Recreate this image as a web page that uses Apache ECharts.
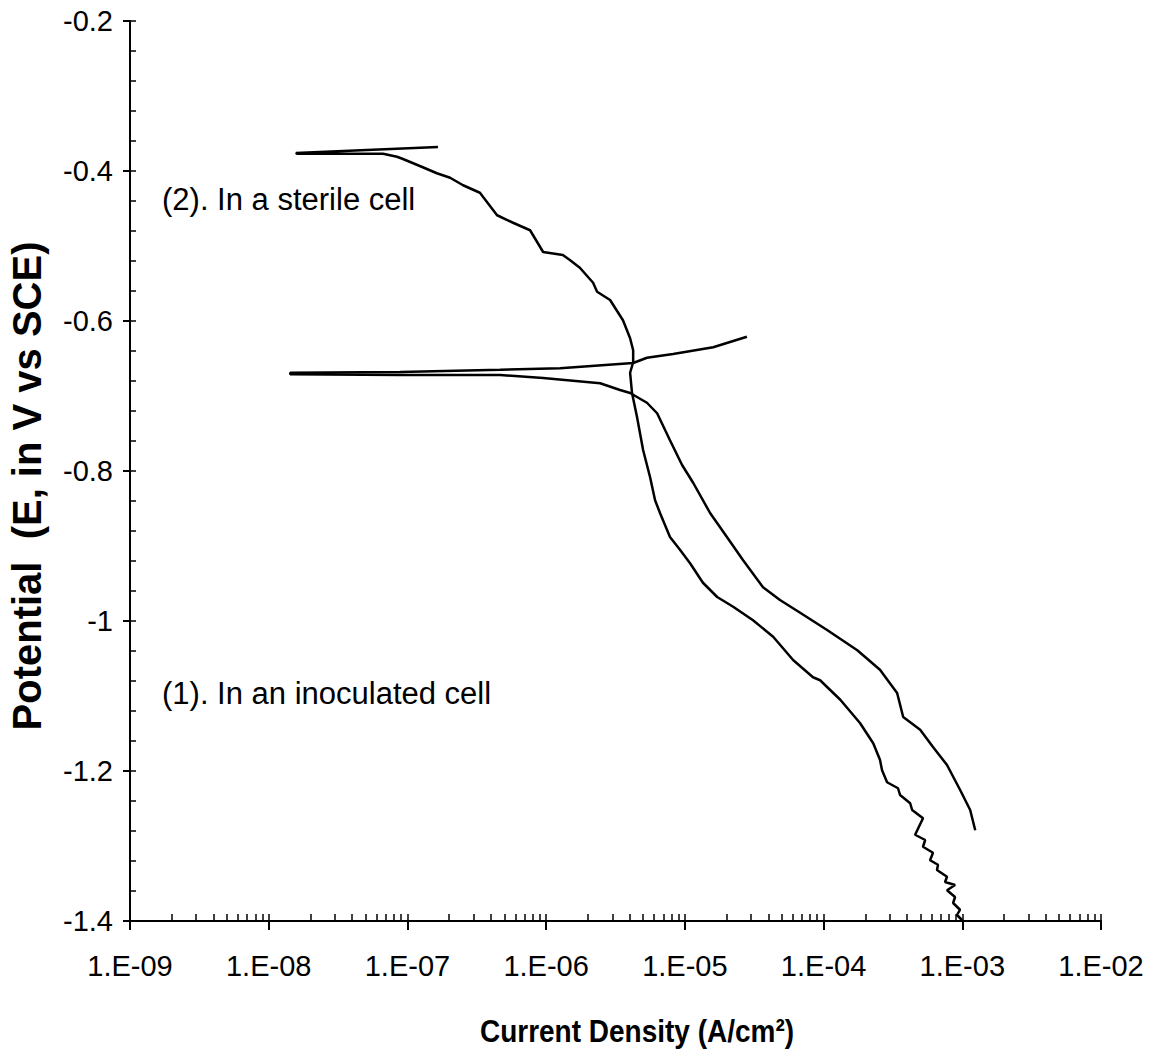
<!DOCTYPE html>
<html>
<head>
<meta charset="utf-8">
<script src="https://cdn.jsdelivr.net/npm/echarts@6/dist/echarts.min.js"></script>
<style>
html, body { margin: 0; padding: 0; background: #fff; }
#chart { width: 1155px; height: 1059px; }
</style>
</head>
<body>
<div id="chart"></div>
<script>
// (2) sterile cell: current density (A/cm2) and potential (V vs SCE)
var sterileCurrent = [1.66e-7, 1.57e-8, 1.60e-8, 6.67e-8, 8.41e-8, 9.29e-8, 1.29e-7, 1.63e-7, 2.03e-7, 2.52e-7,
    3.33e-7, 4.43e-7, 5.77e-7, 7.66e-7, 9.51e-7, 1.32e-6, 1.49e-6, 1.75e-6, 2.18e-6, 2.33e-6,
    2.89e-6, 3.58e-6, 4.03e-6, 4.24e-6, 4.24e-6, 4.03e-6, 4.16e-6, 4.52e-6, 5.00e-6, 5.61e-6,
    6.10e-6, 6.62e-6, 7.81e-6, 9.22e-6, 1.09e-5, 1.35e-5, 1.71e-5, 2.23e-5, 3.10e-5, 4.33e-5,
    6.03e-5, 8.39e-5, 9.44e-5, 1.32e-4, 1.83e-4, 2.28e-4, 2.55e-4, 2.64e-4, 2.87e-4, 3.44e-4,
    3.56e-4, 4.21e-4, 4.35e-4, 5.21e-4, 4.57e-4, 5.40e-4, 5.21e-4, 6.15e-4, 5.86e-4, 6.68e-4,
    6.57e-4, 7.76e-4, 7.51e-4, 8.87e-4, 7.76e-4, 8.87e-4, 8.59e-4, 9.63e-4, 9.16e-4, 9.98e-4];
var sterilePotential = [-0.368, -0.376, -0.377, -0.377, -0.381, -0.384, -0.395, -0.403, -0.409, -0.419,
    -0.429, -0.459, -0.469, -0.479, -0.508, -0.512, -0.519, -0.529, -0.549, -0.561,
    -0.572, -0.599, -0.623, -0.639, -0.655, -0.669, -0.696, -0.728, -0.772, -0.808,
    -0.839, -0.856, -0.888, -0.905, -0.923, -0.949, -0.968, -0.981, -0.999, -1.021,
    -1.052, -1.075, -1.079, -1.105, -1.136, -1.163, -1.185, -1.199, -1.215, -1.223,
    -1.232, -1.243, -1.252, -1.263, -1.285, -1.292, -1.301, -1.309, -1.319, -1.325,
    -1.332, -1.341, -1.348, -1.352, -1.359, -1.368, -1.376, -1.385, -1.392, -1.399];

// (1) inoculated cell
var inocCurrent = [2.80e-5, 1.60e-5, 8.22e-6, 5.33e-6, 4.24e-6, 1.26e-6, 4.66e-7, 8.85e-8, 1.43e-8, 1.43e-8,
    8.85e-8, 4.66e-7, 9.51e-7, 2.45e-6, 3.41e-6, 4.03e-6, 5.33e-6, 6.31e-6, 7.81e-6, 9.55e-6,
    1.15e-5, 1.52e-5, 2.01e-5, 2.63e-5, 3.66e-5, 4.85e-5, 6.78e-5, 1.06e-4, 1.75e-4, 2.55e-4,
    3.39e-4, 3.75e-4, 4.97e-4, 6.15e-4, 7.76e-4, 9.63e-4, 1.14e-3, 1.24e-3];
var inocPotential = [-0.621, -0.635, -0.644, -0.649, -0.656, -0.663, -0.665, -0.668, -0.669, -0.671,
    -0.672, -0.672, -0.676, -0.683, -0.692, -0.696, -0.709, -0.723, -0.759, -0.792,
    -0.816, -0.856, -0.888, -0.919, -0.955, -0.972, -0.989, -1.012, -1.039, -1.065,
    -1.096, -1.128, -1.145, -1.168, -1.192, -1.225, -1.252, -1.279];

var xTickLabels = ['1.E-09', '1.E-08', '1.E-07', '1.E-06', '1.E-05', '1.E-04', '1.E-03', '1.E-02'];
var decades = [-9, -8, -7, -6, -5, -4, -3, -2];

// tick positions (log10) for the 1..9 marks of each decade
var decadeTicks = [];
decades.forEach(function (d) {
    for (var k = 1; k <= 9; k++) {
        if (d === -2 && k > 1) break;
        decadeTicks.push(d + Math.log10(k));
    }
});

function pairs(xs, ys) {
    return xs.map(function (x, i) { return [x, ys[i]]; });
}

var font = '"Liberation Sans", Arial, sans-serif';
var black = '#000';

var myChart = echarts.init(document.getElementById('chart'), null, { renderer: 'svg' });

var option = {
    animation: false,
    backgroundColor: '#fff',
    grid: { left: 130, right: 54, top: 21, bottom: 138 },
    xAxis: [
        {
            type: 'log',
            logBase: 10,
            min: 1e-9,
            max: 1e-2,
            position: 'bottom',
            axisLine: { lineStyle: { color: black, width: 2 } },
            axisTick: { length: 9, lineStyle: { color: black, width: 2 } },
            splitLine: { show: false },
            axisLabel: {
                color: black,
                fontFamily: font,
                fontSize: 29,
                margin: 30,
                formatter: function (v) {
                    var e = Math.round(Math.log10(v));
                    return xTickLabels[decades.indexOf(e)];
                }
            }
        },
        {
            // decoration only: the small upward ticks of each decade
            type: 'value',
            min: -9,
            max: -2,
            position: 'bottom',
            axisLine: { show: false },
            axisLabel: { show: false },
            splitLine: { show: false },
            axisTick: {
                inside: true,
                length: 7,
                customValues: decadeTicks,
                lineStyle: { color: black, width: 1.5 }
            }
        }
    ],
    yAxis: [
        {
            type: 'value',
            min: -1.4,
            max: -0.2,
            interval: 0.2,
            axisLine: { show: true, lineStyle: { color: black, width: 2 } },
            axisTick: { show: true, length: 7, lineStyle: { color: black, width: 2 } },
            splitLine: { show: false },
            axisLabel: { color: black, fontFamily: font, fontSize: 29, margin: 17 }
        },
        {
            type: 'value',
            min: -1.4,
            max: -0.2,
            interval: 0.2,
            position: 'left',
            axisLine: { show: false },
            axisLabel: { show: false },
            splitLine: { show: false },
            axisTick: { show: true, inside: true, length: 6, lineStyle: { color: black, width: 1.5 } },
            minorTick: { show: true, splitNumber: 5, length: 6, lineStyle: { color: black, width: 1.5 } }
        }
    ],
    series: [
        {
            name: '(2). In a sterile cell',
            type: 'line',
            xAxisIndex: 0,
            yAxisIndex: 0,
            data: pairs(sterileCurrent, sterilePotential),
            showSymbol: false,
            lineStyle: { color: black, width: 2.5 }
        },
        {
            name: '(1). In an inoculated cell',
            type: 'line',
            xAxisIndex: 0,
            yAxisIndex: 0,
            data: pairs(inocCurrent, inocPotential),
            showSymbol: false,
            lineStyle: { color: black, width: 2.5 }
        }
    ],
    graphic: [
        {
            type: 'text', x: 162, y: 199,
            style: { text: '(2). In a sterile cell', font: '31px ' + font, fill: black,
                     align: 'left', verticalAlign: 'middle', textAlign: 'left', textVerticalAlign: 'middle' }
        },
        {
            type: 'text', x: 162, y: 693,
            style: { text: '(1). In an inoculated cell', font: '31px ' + font, fill: black,
                     align: 'left', verticalAlign: 'middle', textAlign: 'left', textVerticalAlign: 'middle' }
        },
        {
            type: 'text', x: 637, y: 1031, scaleY: 1.15,
            style: { text: 'Current Density (A/cm²)', font: 'bold 28px ' + font, fill: black,
                     align: 'center', verticalAlign: 'middle', textAlign: 'center', textVerticalAlign: 'middle' }
        },
        {
            type: 'text', x: 27, y: 486, rotation: Math.PI / 2,
            style: { text: 'Potential  (E, in V vs SCE)', font: 'bold 40px ' + font, fill: black,
                     align: 'center', verticalAlign: 'middle', textAlign: 'center', textVerticalAlign: 'middle' }
        }
    ]
};

myChart.setOption(option);
window.addEventListener('resize', function () {
    myChart.resize();
});
</script>
</body>
</html>
